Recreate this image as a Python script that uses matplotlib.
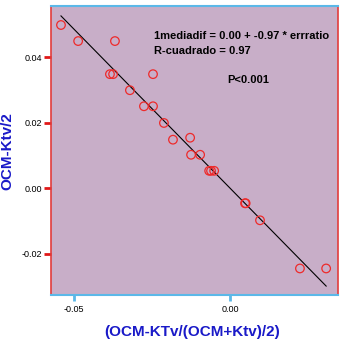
import numpy as np
import matplotlib.pyplot as plt

# values
errratio = [-0.0542, -0.0487, -0.0369, -0.0385, -0.0375, -0.0247, -0.0321,
            -0.0276, -0.0247, -0.0212, -0.0183, -0.0128, -0.0125, -0.0096,
            -0.0067, -0.0061, -0.0051, 0.0048, 0.0050, 0.0096, 0.0224, 0.0308]
mediadif = [0.0498, 0.0449, 0.0449, 0.0348, 0.0348, 0.0348, 0.0299,
            0.0250, 0.0250, 0.0199, 0.0148, 0.0154, 0.0102, 0.0102,
            0.0053, 0.0053, 0.0053, -0.0046, -0.0046, -0.0098, -0.0245, -0.0245]
intercept = 0.0
slope = -0.97

W, H = 346, 345
fig = plt.figure(figsize=(W/100, H/100), dpi=100)
ax = fig.add_axes([51/W, 50/H, 287/W, 289/H])
ax.set_facecolor('#c8aec8')

ax.scatter(errratio, mediadif, s=38, facecolors='none', edgecolors='#ee2a2a',
           linewidths=0.9, zorder=3)
xl = np.array([min(errratio), max(errratio)])
ax.plot(xl, intercept + slope * xl, color='black', lw=0.8, zorder=2)

ax.set_xlim(-0.0574, 0.0346)
ax.set_ylim(-0.0326, 0.0556)
ax.set_xticks([-0.05, 0.0])
ax.set_xticklabels(['-0.05', '0.00'], family='Liberation Sans')
ax.set_yticks([-0.02, 0.0, 0.02, 0.04])
ax.set_yticklabels(['-0.02', '0.00', '0.02', '0.04'], family='Liberation Sans')

for s in ['left', 'right']:
    ax.spines[s].set_color('#e23c3c')
    ax.spines[s].set_linewidth(1.2)
for s in ['top', 'bottom']:
    ax.spines[s].set_color('#5bb8e8')
    ax.spines[s].set_linewidth(1.5)

ax.tick_params(axis='y', colors='#e01818', width=2, length=5, labelsize=6.5,
               labelcolor='black', pad=1.5)
ax.tick_params(axis='x', colors='#5bb8e8', width=2, length=4, labelsize=6.5,
               labelcolor='black', pad=3)

ax.set_xlabel('(OCM-KTv/(OCM+Ktv)/2)', color='#1a1ac8', fontsize=11,
              fontweight='bold', family='Liberation Sans')
ax.xaxis.set_label_coords(0.493, -0.105)
ax.set_ylabel('OCM-Ktv/2', color='#1a1ac8', fontsize=11,
              fontweight='bold', family='Liberation Sans')
ax.yaxis.set_label_coords(-0.128, 0.498)

notes = [(154, 36, '1mediadif = 0.00 + -0.97 * errratio'),
         (154, 51, 'R-cuadrado = 0.97'),
         (227, 80, 'P<0.001')]
for px, py, t in notes:
    fig.text(px/W, 1 - py/H, t, fontsize=8, fontweight='bold',
             family='Liberation Sans', va='center')

plt.savefig('out.png', dpi=100)
